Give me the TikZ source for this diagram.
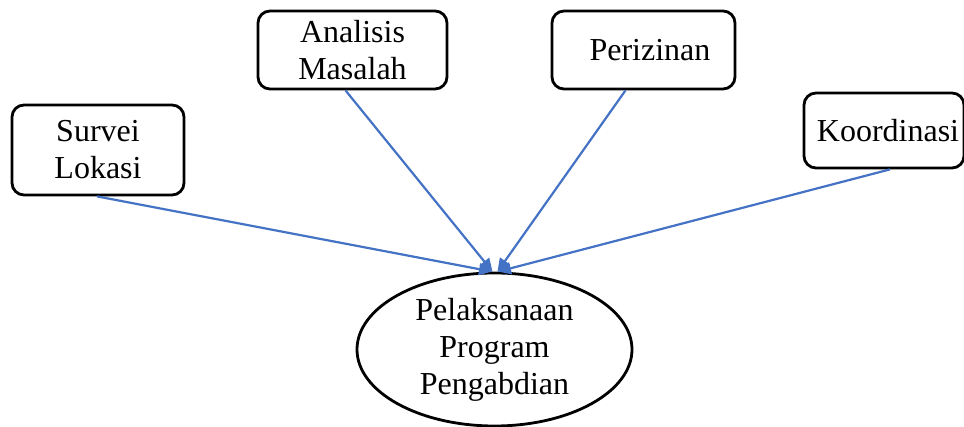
\documentclass[tikz,border=0pt]{standalone}
\usepackage{fontspec}
\setmainfont{Liberation Serif}
\usetikzlibrary{arrows.meta}
\usetikzlibrary{shapes.geometric}

\definecolor{linkblue}{RGB}{68,114,196}

\tikzset{
  task/.style={draw, line width=2.8pt, rounded corners=12pt, align=center,
               inner sep=0pt, font=\fontsize{32}{37}\selectfont},
  goal/.style={draw, ellipse, line width=2.8pt, align=center, inner sep=0pt,
               minimum width=275pt, minimum height=153pt,
               font=\fontsize{32}{37}\selectfont},
  link/.style={draw=linkblue, line width=2.2pt,
               -{Triangle[length=13pt,width=12pt]}, fill=linkblue}
}

\begin{document}
\begin{tikzpicture}[x=1pt,y=1pt]
                  \useasboundingbox (0,0) rectangle (964,427);
                  \node [goal] (pp) at (494.5,77.5) {Pelaksanaan\\Program\\Pengabdian};
                  \node [task,minimum width=172pt,minimum height=90pt] (sl) at (98,277) {Survei\\Lokasi};
                  \node [task,minimum width=189pt,minimum height=78pt] (am) at (352.5,377) {Analisis\\Masalah};
                  \node [task,minimum width=183pt,minimum height=78pt] (pz) at (643.5,377) {\hspace*{13pt}Perizinan};
                  \node [task,minimum width=160pt,minimum height=75pt] (ko) at (884,296.5) {\hspace*{8pt}Koordinasi};
                  \draw [link] ([xshift=-1pt]sl.south) -- ([xshift=-2.5pt]pp.north);
                  \draw [link] ([xshift=-7pt]am.south) -- ([xshift=-2pt]pp.north);
                  \draw [link] ([xshift=-18pt]pz.south) -- ([xshift=3pt]pp.north);
                  \draw [link] ([xshift=6pt]ko.south) -- ([xshift=3.5pt]pp.north);
\end{tikzpicture}
\end{document}
